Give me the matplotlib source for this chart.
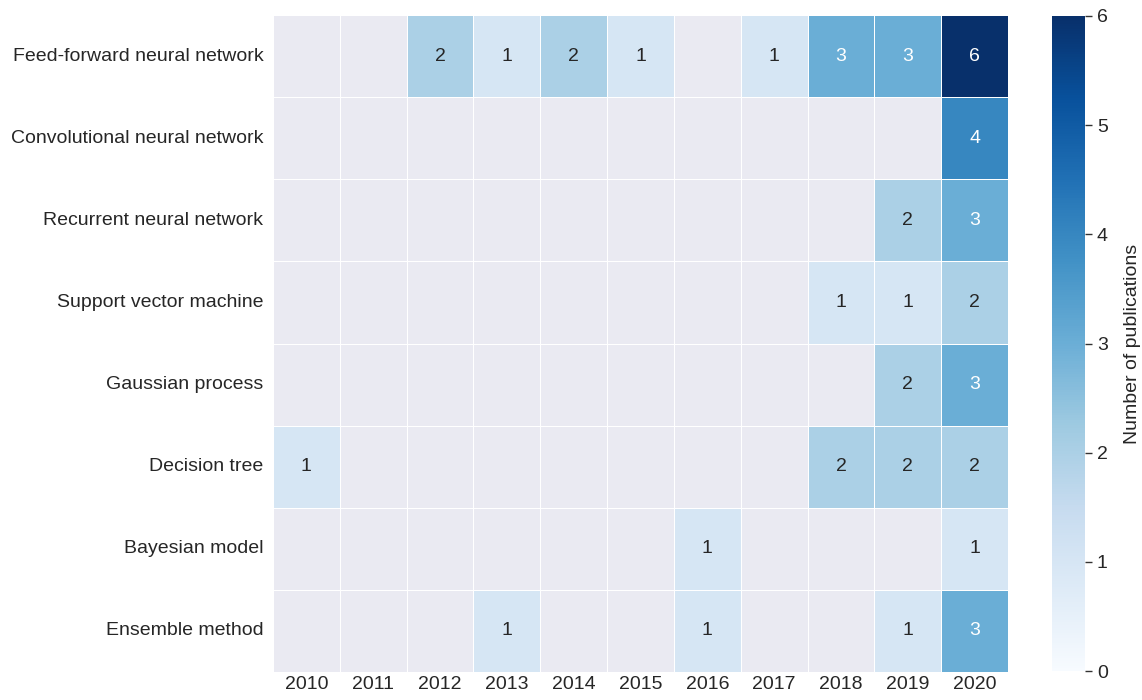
import numpy as np
import pandas as pd
import matplotlib
matplotlib.use("Agg")
import matplotlib.pyplot as plt
import seaborn as sns

years = [2010, 2011, 2012, 2013, 2014, 2015, 2016, 2017, 2018, 2019, 2020]
methods = ["Feed-forward neural network", "Convolutional neural network",
           "Recurrent neural network", "Support vector machine",
           "Gaussian process", "Decision tree", "Bayesian model", "Ensemble method"]
ffnn = [0, 0, 2, 1, 2, 1, 0, 1, 3, 3, 6]
cnn = [0, 0, 0, 0, 0, 0, 0, 0, 0, 0, 4]
rnn = [0, 0, 0, 0, 0, 0, 0, 0, 0, 2, 3]
svm = [0, 0, 0, 0, 0, 0, 0, 0, 1, 1, 2]
gp = [0, 0, 0, 0, 0, 0, 0, 0, 0, 2, 3]
dt = [1, 0, 0, 0, 0, 0, 0, 0, 2, 2, 2]
bayes = [0, 0, 0, 0, 0, 0, 1, 0, 0, 0, 1]
ens = [0, 0, 0, 1, 0, 0, 1, 0, 0, 1, 3]

df = pd.DataFrame([ffnn, cnn, rnn, svm, gp, dt, bayes, ens], index=methods, columns=years)

sns.set_theme(style="darkgrid")
plt.rcParams['font.family'] = ['Liberation Sans', 'DejaVu Sans']

fig = plt.figure(figsize=(11.42, 7), dpi=100)
ax = fig.add_axes([273/1142, 1 - 672/700, (1008-273)/1142, (672-15)/700])
cax = fig.add_axes([1052/1142, 1 - 671/700, 33/1142, (671-16)/700])

sns.heatmap(df, mask=(df == 0), cmap="Blues", vmin=0, vmax=6, annot=True, fmt="d",
            annot_kws={"fontsize": 14}, linewidths=0.5, linecolor="white",
            ax=ax, cbar_ax=cax, cbar_kws={"label": "Number of publications"})
ax.grid(False)
ax.tick_params(axis='y', labelsize=14, length=0, pad=7)
ax.tick_params(axis='x', labelsize=14, length=0, pad=3)
ax.set_xlabel("")
ax.set_ylabel("")
plt.setp(ax.get_yticklabels(), rotation=0)
plt.setp(ax.get_xticklabels(), rotation=0)
cax.tick_params(labelsize=14, length=5, width=1, color="#333333")
cax.yaxis.label.set_size(14)
cax.yaxis.labelpad = 12
for s in cax.spines.values():
    s.set_visible(False)

fig.savefig("out.png", dpi=100)
